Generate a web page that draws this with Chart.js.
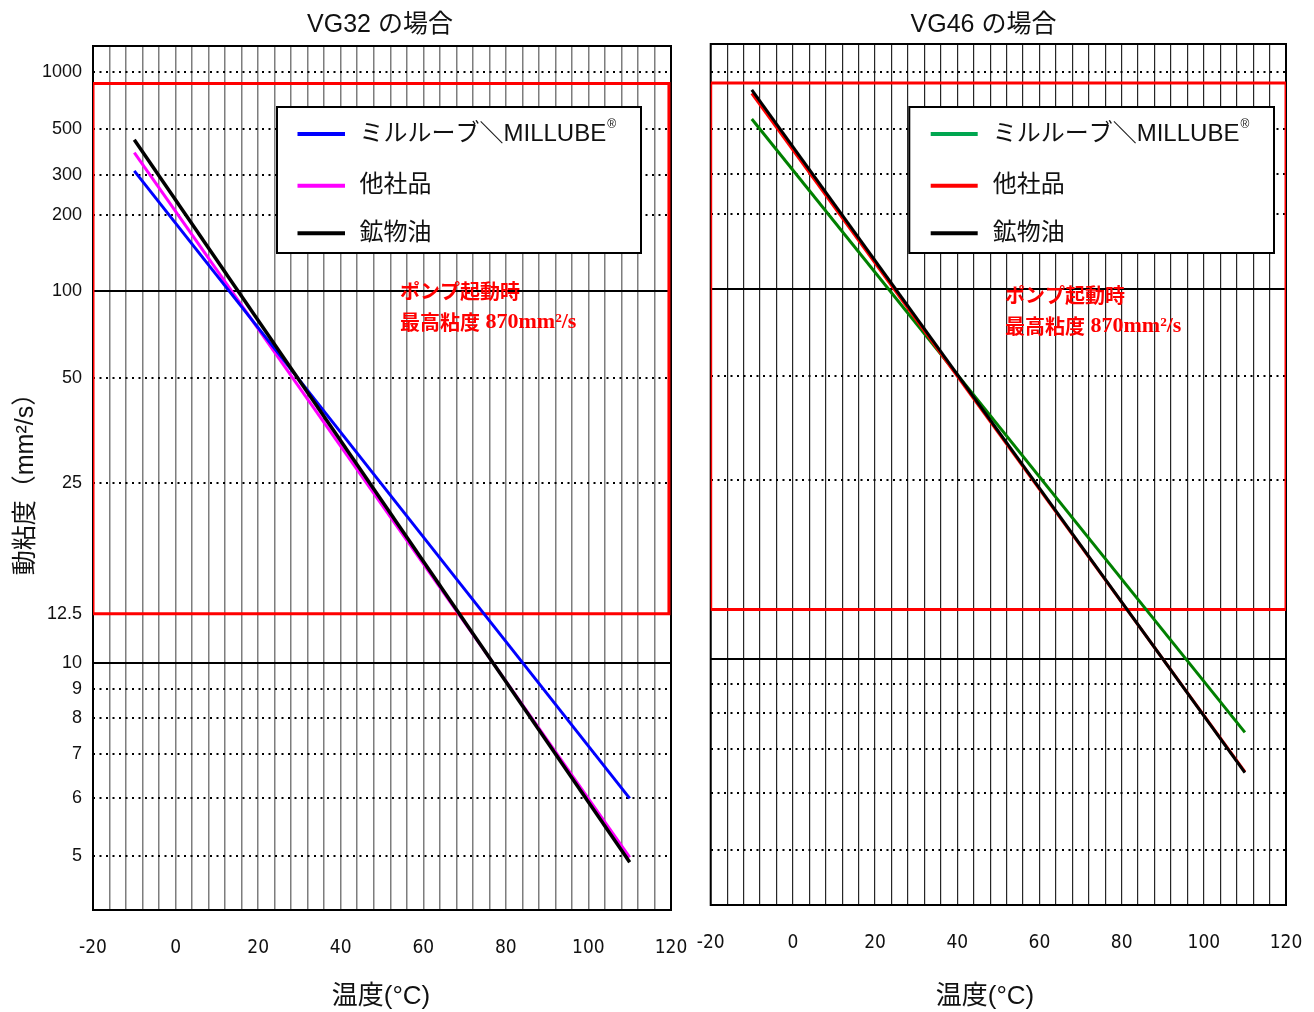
<!DOCTYPE html>
<html lang="ja">
<head>
<meta charset="utf-8">
<title>動粘度と温度の関係</title>
<script src="https://cdn.jsdelivr.net/npm/chart.js@4/dist/chart.umd.min.js"></script>
<style>
  html, body { margin: 0; padding: 0; background: #fff; }
  #wrap { position: relative; width: 1314px; height: 1012px; overflow: hidden; }
  #vg32 { position: absolute; left: 0; top: 0; }
  #vg46 { position: absolute; left: 690px; top: 0; }
</style>
</head>
<body>
<div id="wrap">
  <canvas id="vg32" width="690" height="1012"></canvas>
  <canvas id="vg46" width="624" height="1012"></canvas>
</div>
<script>
// Temperatures (°C) at which each curve starts and ends
const temps = [-10, 110];

// Kinematic viscosity (mm²/s) – VG32 grade
const vg32Millube = [315, 6.0];
const vg32Other   = [384, 4.98];
const vg32Mineral = [444, 4.91];

// Kinematic viscosity (mm²/s) – VG46 grade
const vg46Millube = [560, 7.44];
const vg46Other   = [764, 6.45];
const vg46Mineral = [797, 6.43];

const seriesLabels = ['ミルルーブ＼MILLUBE', '他社品', '鉱物油'];
const panelTitles  = ['VG32 の場合', 'VG46 の場合'];

// Pump start-up window
const pumpViscRange = [12.5, 870];
const pumpNote = ['ポンプ起動時', '最高粘度 870mm²/s'];

// Axis ticks
const yTickValues = [1000, 500, 300, 200, 100, 50, 25, 12.5, 10, 9, 8, 7, 6, 5];
const yTickLabels = ['1000', '500', '300', '200', '100', '50', '25', '12.5', '10', '9', '8', '7', '6', '5'];
const ySolidLines = [100, 10];
const yNoGridLines = [12.5];
const xTickLabels = [-20, 0, 20, 40, 60, 80, 100, 120];
const xGridStep = 4;

const yTitle = '動粘度（mm²/s）';
const xTitle = '温度(°C)';

// Viscosity–temperature chart scale: log(log(v))
const T = v => Math.log10(Math.log10(v));
const near = (a, b) => Math.abs(a - b) < 1e-9;

const FONT = "'Liberation Sans', 'Noto Sans CJK JP', sans-serif";
const CJK = /[\u3000-\u30ff\u4e00-\u9fff\uff00-\uffef]/;

function pumpBox(t0, t1) {
  const [lo, hi] = pumpViscRange;
  return [
    { x: t0, y: T(hi) }, { x: t1, y: T(hi) }, { x: t1, y: T(lo) },
    { x: t0, y: T(lo) }, { x: t0, y: T(hi) }
  ];
}

// draw a string with Japanese runs in gothic and Latin runs in a bold serif
function drawMixed(ctx, text, x, y) {
  const runs = [];
  for (const ch of text) {
    const k = CJK.test(ch);
    if (runs.length && runs[runs.length - 1].k === k) runs[runs.length - 1].s += ch;
    else runs.push({ k, s: ch });
  }
  for (const r of runs) {
    ctx.font = r.k ? "bold 20px 'Noto Sans CJK JP', sans-serif"
                   : "bold 22px 'Liberation Serif', serif";
    ctx.fillText(r.s, x, y);
    x += ctx.measureText(r.s).width;
  }
}

// plot frame around the chart area
const framePlugin = {
  id: 'frame',
  beforeDatasetsDraw(chart) {
    const { ctx, chartArea: a } = chart;
    ctx.save();
    ctx.strokeStyle = '#000';
    ctx.lineWidth = 2;
    ctx.strokeRect(a.left, a.top, a.right - a.left, a.bottom - a.top);
    ctx.restore();
  }
};

// panel title, x-axis title, boxed legend and red note
const annotPlugin = {
  id: 'annot',
  afterDatasetsDraw(chart, args, o) {
    const ctx = chart.ctx;
    ctx.save();
    ctx.textBaseline = 'middle';
    ctx.textAlign = 'center';
    ctx.fillStyle = '#111';
    ctx.font = '25px ' + FONT;
    ctx.fillText(o.title, o.titlePos[0], o.titlePos[1]);
    ctx.font = '26px ' + FONT;
    ctx.fillText(xTitle, o.xTitlePos[0], o.xTitlePos[1]);

    ctx.textAlign = 'left';
    ctx.fillStyle = '#ff0000';
    drawMixed(ctx, pumpNote[0], o.note.x, o.note.y[0]);
    drawMixed(ctx, pumpNote[1], o.note.x, o.note.y[1]);

    const b = o.box;
    ctx.fillStyle = '#fff';
    ctx.fillRect(b.x, b.y, b.w, b.h);
    ctx.strokeStyle = '#000';
    ctx.lineWidth = 2;
    ctx.strokeRect(b.x, b.y, b.w, b.h);
    seriesLabels.forEach((lab, i) => {
      const y = b.y + o.rows[i];
      ctx.strokeStyle = o.colors[i];
      ctx.lineWidth = 4;
      ctx.beginPath();
      ctx.moveTo(b.x + o.line[0], y);
      ctx.lineTo(b.x + o.line[1], y);
      ctx.stroke();
      ctx.fillStyle = '#111';
      ctx.font = '24px ' + FONT;
      ctx.fillText(lab, b.x + o.textX, y);
      if (i === 0) {
        const w = ctx.measureText(lab).width;
        ctx.font = '12px ' + FONT;
        ctx.fillText('®', b.x + o.textX + w + 1, y - 9);
      }
    });
    ctx.restore();
  }
};

function makePanel(canvas, p) {
  const datasets = p.series.map((s, i) => ({
    label: seriesLabels[i],
    data: temps.map((t, k) => ({ x: t, y: T(s.values[k]) })),
    borderColor: s.color,
    borderWidth: s.width,
    order: s.order
  }));
  datasets.push({
    label: 'pump',
    data: pumpBox(p.pumpTemp[0], p.pumpTemp[1]),
    borderColor: '#ff0000',
    borderWidth: 3,
    borderJoinStyle: 'miter',
    order: 10
  });

  return new Chart(canvas, {
    type: 'line',
    data: { datasets },
    plugins: [framePlugin, annotPlugin],
    options: {
      responsive: false,
      animation: false,
      devicePixelRatio: 1,
      events: [],
      layout: { padding: { left: 0, right: p.padRight, top: p.padTop, bottom: 0 } },
      elements: {
        point: { radius: 0 },
        line: { tension: 0, fill: false, borderCapStyle: 'butt' }
      },
      plugins: {
        legend: { display: false },
        tooltip: { enabled: false },
        title: { display: false },
        annot: p.annot
      },
      scales: {
        x: {
          type: 'linear',
          min: -20,
          max: 120,
          afterFit: s => {
            s.height = p.xAxisHeight;
            s.paddingLeft = 0;
            s.paddingRight = 0;
          },
          ticks: {
            stepSize: xGridStep,
            autoSkip: false,
            maxRotation: 0,
            color: '#111',
            padding: p.xTickPad,
            font: { family: "'Liberation Sans Narrow', 'DejaVu Sans Condensed', 'Liberation Sans', sans-serif", size: 19 },
            callback: v => xTickLabels.includes(v) ? String(v) : ''
          },
          grid: { drawTicks: false, color: p.vGridColor, lineWidth: p.vGridWidth },
          border: { display: false }
        },
        y: {
          type: 'linear',
          min: p.yMin,
          max: p.yMax,
          afterFit: s => {
            s.width = p.yAxisWidth;
            s.paddingTop = 0;
            s.paddingBottom = 0;
          },
          afterBuildTicks: s => {
            s.ticks = yTickValues
              .map((v, i) => ({ value: T(v), src: i }))
              .sort((a, b) => a.value - b.value);
          },
          ticks: {
            display: p.yLabels,
            autoSkip: false,
            color: '#111',
            padding: 11,
            font: { family: FONT, size: 18 },
            callback: (v, i, ticks) => yTickLabels[ticks[i].src]
          },
          grid: {
            drawTicks: false,
            lineWidth: 2,
            color: ctx => {
              if (!ctx.tick) return '#000';
              return yNoGridLines.some(v => near(T(v), ctx.tick.value)) ? 'rgba(0,0,0,0)' : '#000';
            }
          },
          border: {
            display: false,
            dash: ctx => {
              if (ctx.type !== 'tick' || !ctx.tick) return [];
              return ySolidLines.some(v => near(T(v), ctx.tick.value)) ? [] : [2, 4.5];
            }
          },
          title: {
            display: p.yLabels,
            text: yTitle,
            color: '#111',
            font: { family: FONT, size: 25 },
            padding: { top: 11, bottom: 0 }
          }
        }
      }
    }
  });
}

makePanel(document.getElementById('vg32'), {
  series: [
    { values: vg32Millube, color: '#0000ff', width: 3, order: 2 },
    { values: vg32Other,   color: '#ff00ff', width: 3, order: 3 },
    { values: vg32Mineral, color: '#000000', width: 3.5, order: 1 }
  ],
  pumpTemp: [-20, 119.5],
  padRight: 19,
  padTop: 46,
  xAxisHeight: 102,
  yAxisWidth: 93,
  xTickPad: 27,
  yMin: -0.1991,
  yMax: 0.4985,
  yLabels: true,
  vGridColor: '#7d7d7d',
  vGridWidth: 1.5,
  annot: {
    title: panelTitles[0],
    titlePos: [380, 25],
    xTitlePos: [381, 997],
    note: { x: 400, y: [291.7, 322] },
    box: { x: 277, y: 107, w: 364, h: 146 },
    rows: [27, 78.7, 126.3],
    line: [20.5, 68],
    textX: 82.5,
    colors: ['#0000ff', '#ff00ff', '#000000']
  }
});

makePanel(document.getElementById('vg46'), {
  series: [
    { values: vg46Millube, color: '#008000', width: 3, order: 3 },
    { values: vg46Other,   color: '#ff0000', width: 3, order: 2 },
    { values: vg46Mineral, color: '#000000', width: 3, order: 1 }
  ],
  pumpTemp: [-20, 120],
  padRight: 28,
  padTop: 44,
  xAxisHeight: 107,
  yAxisWidth: 20.7,
  xTickPad: 27,
  yMin: -0.2,
  yMax: 0.5,
  yLabels: false,
  vGridColor: '#262626',
  vGridWidth: 1.2,
  annot: {
    title: panelTitles[1],
    titlePos: [293.5, 25],
    xTitlePos: [295, 997],
    note: { x: 315, y: [295, 326] },
    box: { x: 219.3, y: 107, w: 364.7, h: 146 },
    rows: [27, 78.7, 126.3],
    line: [21.4, 68.4],
    textX: 83.4,
    colors: ['#00a650', '#ff0000', '#000000']
  }
});
</script>
</body>
</html>
